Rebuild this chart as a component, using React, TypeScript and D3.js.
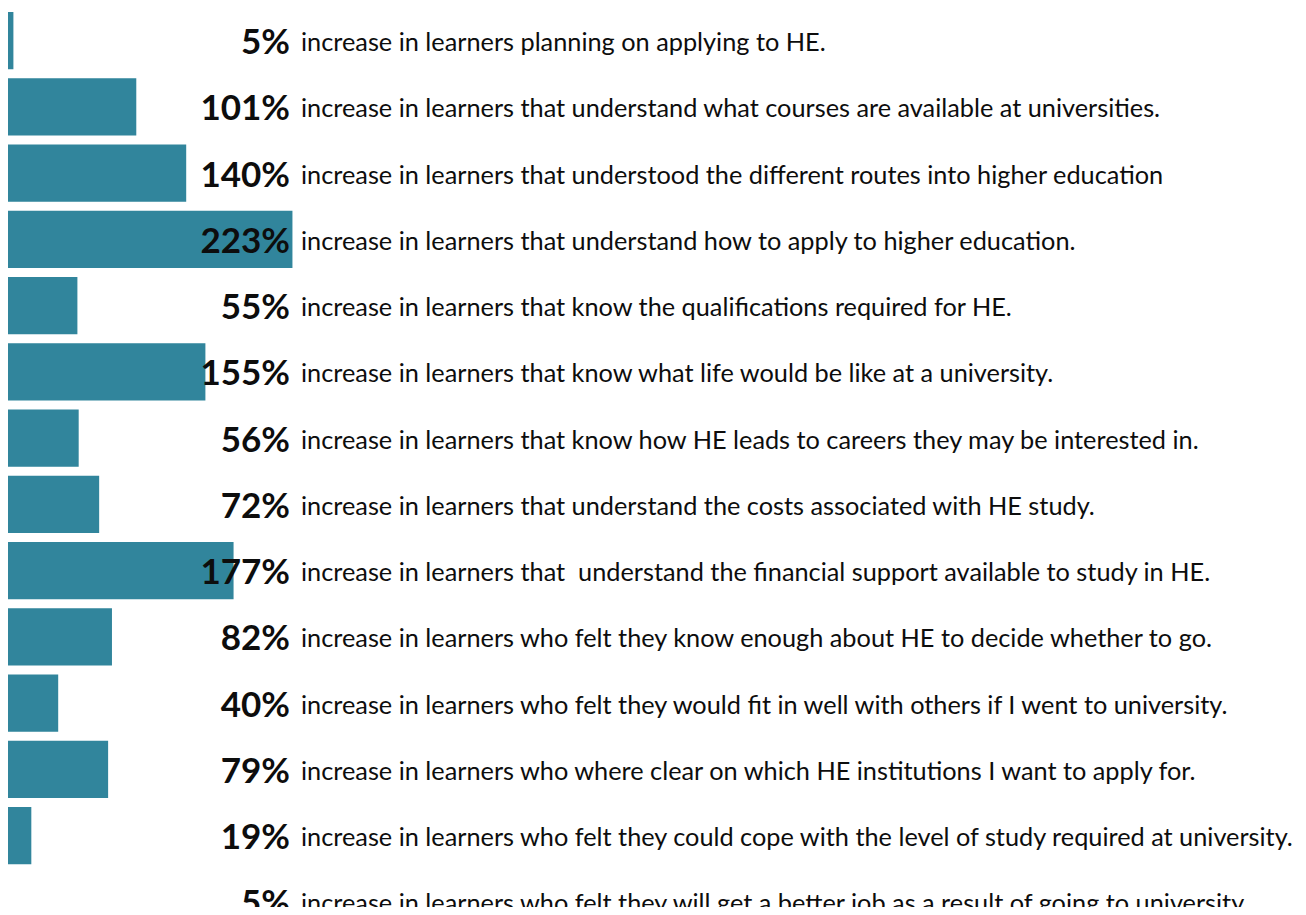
import { useEffect, useRef } from "react";
import * as d3 from "d3";

// percentage increase per statement (value shown in bold)
const percents = [5, 101, 140, 223, 55, 155, 56, 72, 177, 82, 40, 79, 19, 5];

// bar lengths; the last statement has no bar in the original
const barValues: (number | null)[] = [5, 101, 140, 223, 55, 155, 56, 72, 177, 82, 40, 79, 19, null];

const statements = [
  "increase in learners planning on applying to HE.",
  "increase in learners that understand what courses are available at universities.",
  "increase in learners that understood the different routes into higher education",
  "increase in learners that understand how to apply to higher education.",
  "increase in learners that know the qualifications required for HE.",
  "increase in learners that know what life would be like at a university.",
  "increase in learners that know how HE leads to careers they may be interested in.",
  "increase in learners that understand the costs associated with HE study.",
  "increase in learners that  understand the financial support available to study in HE.",
  "increase in learners who felt they know enough about HE to decide whether to go.",
  "increase in learners who felt they would fit in well with others if I went to university.",
  "increase in learners who where clear on which HE institutions I want to apply for.",
  "increase in learners who felt they could cope with the level of study required at university.",
  "increase in learners who felt they will get a better job as a result of going to university.",
];

export default function App() {
  const svgRef = useRef<SVGSVGElement>(null);

  useEffect(() => {
    const width = 1306;
    const height = 915;
    const step = 66.25;
    const gap = 9;

    const svg = d3.select(svgRef.current);
    svg.selectAll("*").remove();
    svg.attr("width", width).attr("height", height).style("display", "block");

    const rows = statements.map((s, i) => ({
      idx: i,
      text: s,
      pct: percents[i],
      bar: barValues[i],
    }));

    const y = d3
      .scaleBand<number>()
      .domain(rows.map(d => d.idx))
      .range([12, 12 + step * rows.length - gap])
      .paddingInner(gap / step)
      .paddingOuter(0);

    const x = d3.scaleLinear().domain([0, 100]).range([0, 128]);
    const x0 = 7;
    const mid = (i: number) => y(i)! + y.bandwidth() / 2;

    svg
      .append("g")
      .selectAll("rect")
      .data(rows.filter(d => d.bar != null))
      .enter()
      .append("rect")
      .attr("x", x0)
      .attr("y", d => y(d.idx)!)
      .attr("width", d => x(d.bar as number))
      .attr("height", y.bandwidth())
      .attr("fill", "#31859c");

    const labels = svg.append("g");

    labels
      .selectAll("text.pct")
      .data(rows)
      .enter()
      .append("text")
      .attr("class", "pct")
      .attr("x", 290)
      .attr("y", d => mid(d.idx) + 13.5)
      .attr("text-anchor", "end")
      .style("font-family", "Lato, 'Open Sans', sans-serif")
      .style("font-weight", "bold")
      .style("font-size", "35px")
      .attr("fill", "#0d0d0d")
      .text(d => `${d.pct}%`);

    labels
      .selectAll("text.desc")
      .data(rows)
      .enter()
      .append("text")
      .attr("class", "desc")
      .attr("x", 301)
      .attr("y", d => mid(d.idx) + 10.5)
      .style("font-family", "Lato, 'Open Sans', sans-serif")
      .style("font-size", "25.3px")
      .style("white-space", "pre")
      .attr("fill", "#0d0d0d")
      .text(d => d.text);
  }, []);

  return (
    <div style={{ margin: -8 }}>
      <svg ref={svgRef}></svg>
    </div>
  );
}
